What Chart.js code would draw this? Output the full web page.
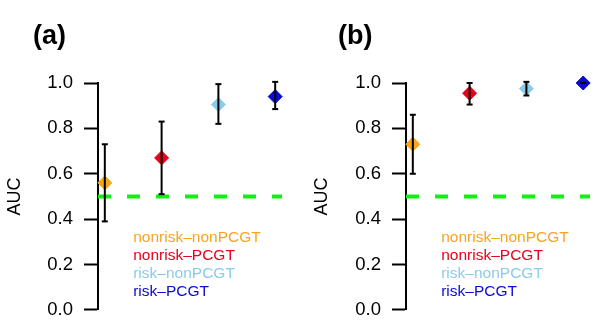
<!DOCTYPE html>
<html>
<head>
<meta charset="utf-8">
<script src="https://cdn.jsdelivr.net/npm/chart.js@4"></script>
<style>
  body { margin: 0; background: #fff; }
  .wrap { display: flex; width: 600px; height: 332px; }
  canvas { display: block; }
</style>
</head>
<body>
<div class="wrap">
  <canvas id="panelA" width="300" height="332"></canvas>
  <canvas id="panelB" width="300" height="332"></canvas>
</div>
<script>
const categories = ['nonrisk–nonPCGT', 'nonrisk–PCGT', 'risk–nonPCGT', 'risk–PCGT'];
const colors = ['#f7a51c', '#e8001c', '#8ccbe8', '#0a0ad0'];
const positions = [1, 2, 3, 4];

// panel (a)
const aucA = [0.56, 0.67, 0.905, 0.94];
const lowA = [0.39, 0.51, 0.82, 0.885];
const highA = [0.73, 0.83, 0.995, 1.005];

// panel (b)
const aucB = [0.73, 0.955, 0.975, 1.0];
const lowB = [0.60, 0.905, 0.945, 1.0];
const highB = [0.86, 1.0, 1.005, 1.0];

const chanceLevel = 0.5;
const xMin = 0.88;
const xMax = 4.12;
const yTicks = [0, 0.2, 0.4, 0.6, 0.8, 1.0];

const fontFamily = '"Liberation Sans", Arial, Helvetica, sans-serif';

// draws the panel letter and the coloured text legend
const panelText = {
    id: 'panelText',
    afterDraw(chart, args, opts) {
        const ctx = chart.ctx;
        const xs = chart.scales.x;
        const ys = chart.scales.y;
        ctx.save();
        ctx.textBaseline = 'middle';
        ctx.textAlign = 'left';
        ctx.fillStyle = '#000';
        ctx.font = `bold 27px ${fontFamily}`;
        ctx.fillText(opts.label, chart.chartArea.left - opts.labelShift, opts.labelY);

        ctx.font = `15.5px ${fontFamily}`;
        const lx = xs.getPixelForValue(1.5);
        const ly = ys.getPixelForValue(0.4) + 19;
        categories.forEach((name, i) => {
            ctx.fillStyle = colors[i];
            ctx.fillText(name, lx, ly + i * 18);
        });
        ctx.restore();
    }
};

const makePanel = (id, auc, low, high, p) => {
    const errorBars = positions.map((x, i) => ({
        data: [{x: x, y: low[i]}, {x: x, y: high[i]}],
        showLine: true,
        borderColor: '#000',
        borderWidth: 2,
        pointStyle: 'line',
        pointRadius: 3,
        pointBorderColor: '#000',
        pointBorderWidth: 2,
        clip: false,
        order: 0
    }));
    const points = {
        data: positions.map((x, i) => ({x: x, y: auc[i]})),
        showLine: false,
        pointStyle: 'rectRot',
        pointRadius: 7,
        pointBackgroundColor: colors,
        pointBorderColor: colors,
        pointBorderWidth: 1,
        clip: false,
        order: 1
    };
    const chance = {
        data: [{x: xMin, y: chanceLevel}, {x: xMax, y: chanceLevel}],
        showLine: true,
        borderColor: '#14ee14',
        borderWidth: 4,
        borderDash: [13, 16],
        pointRadius: 0,
        order: 2
    };

    return new Chart(document.getElementById(id), {
        type: 'scatter',
        data: { datasets: [...errorBars, points, chance] },
        options: {
            responsive: false,
            animation: false,
            events: [],
            layout: { padding: { left: 0, right: p.padRight, top: 83, bottom: 22 } },
            plugins: {
                legend: { display: false },
                tooltip: { enabled: false },
                panelText: { label: p.label, labelShift: p.labelShift, labelY: 37 }
            },
            scales: {
                x: { type: 'linear', min: xMin, max: xMax, display: false },
                y: {
                    type: 'linear',
                    min: 0,
                    max: 1,
                    afterBuildTicks: (scale) => { scale.ticks = yTicks.map(v => ({value: v})); },
                    afterFit: (scale) => { scale.width = p.axisWidth; },
                    border: { display: true, color: '#000', width: 2 },
                    grid: { drawOnChartArea: false, drawTicks: true, tickLength: 14, tickWidth: 2, tickColor: '#000', color: '#000' },
                    ticks: {
                        color: '#000',
                        padding: 11,
                        font: { family: fontFamily, size: 18.5 },
                        callback: v => v.toFixed(1)
                    },
                    title: {
                        display: true,
                        text: 'AUC',
                        color: '#000',
                        font: { family: fontFamily, size: 18 },
                        padding: { top: p.titlePad, bottom: 0 }
                    }
                }
            }
        },
        plugins: [panelText]
    });
};

makePanel('panelA', aucA, lowA, highA, { label: '(a)', axisWidth: 98, padRight: 18, titlePad: 4, labelShift: 65 });
makePanel('panelB', aucB, lowB, highB, { label: '(b)', axisWidth: 106, padRight: 10, titlePad: 11, labelShift: 68 });
</script>
</body>
</html>
